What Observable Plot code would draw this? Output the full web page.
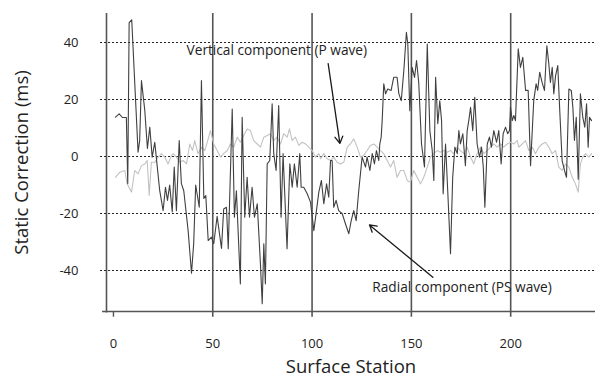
<!DOCTYPE html>
<html>
<head>
<meta charset="utf-8">
<script src="https://cdn.jsdelivr.net/npm/d3@7"></script>
<script src="https://cdn.jsdelivr.net/npm/@observablehq/plot@0.6"></script>
<style>
  html, body { margin: 0; padding: 0; background: #fff; }
  #chart svg { display: block; }
</style>
</head>
<body>
<div id="chart"></div>
<script>
// Radial component (PS wave) - dark series
const radialStation = [1.0,2.9,4.5,6.5,7.2,7.9,9.2,12.4,13.2,14.1,15.8,17.1,18.3,19.5,20.8,22.0,23.3,25.0,26.2,27.2,28.3,29.6,30.6,31.7,33.1,34.2,35.4,37.6,39.3,40.4,41.4,43.2,44.3,45.5,46.5,47.7,49.3,50.5,52.2,54.4,55.5,56.9,57.8,59.8,60.9,61.9,63.9,64.8,66.1,67.3,68.5,69.8,71.0,72.4,74.0,74.9,75.7,76.5,77.4,78.7,79.9,80.7,81.9,83.2,84.4,85.4,86.6,87.4,88.8,90.0,91.1,92.5,93.8,94.5,95.8,97.5,99.2,100.9,102.2,103.4,104.7,105.9,107.3,108.4,109.3,110.1,110.9,112.1,113.4,115.2,116.8,118.5,119.7,121.0,122.2,123.5,125.2,126.9,127.7,129.1,130.3,131.4,132.4,133.6,134.1,134.8,135.3,136.1,137.0,138.1,139.8,141.1,142.8,143.7,144.9,146.2,147.5,148.2,149.2,150.4,151.6,152.6,153.7,155.1,156.6,158.0,159.3,160.5,161.3,162.2,163.3,164.3,165.2,166.0,167.2,168.3,169.7,170.8,171.9,173.1,173.9,174.7,175.9,177.2,178.1,178.9,179.8,180.9,181.9,183.1,184.3,185.3,186.2,187.0,188.2,189.3,190.3,191.5,192.9,194.0,195.2,196.2,197.4,198.5,199.4,199.9,200.8,201.6,202.4,203.8,204.9,206.1,207.5,208.8,210.0,211.6,212.8,213.6,214.6,215.8,217.0,218.2,219.2,220.0,220.9,221.7,222.6,223.7,224.7,225.9,227.1,228.1,229.3,230.5,231.3,232.1,233.0,234.0,235.1,236.3,237.3,238.2,239.0,239.7,240.7];
const radialValue = [13.8,15.0,13.7,13.7,-9.5,47.0,48.0,1.5,5.6,26.7,16.0,2.8,10.3,-0.2,5.0,-3.2,-12.0,-19.0,-10.8,-15.4,-10.0,-19.5,-3.7,-19.0,5.6,-9.5,-12.0,-26.0,-41.0,-30.5,-10.0,-17.8,26.7,-14.7,-13.7,-29.5,-28.3,-30.6,-21.0,-32.3,-18.4,-17.8,-32.4,16.7,-21.3,-12.0,-44.7,13.8,-21.3,-7.3,-21.3,-10.8,-21.3,-16.6,-37.7,-51.7,-30.6,-44.7,-2.6,-1.4,18.5,1.0,-4.9,17.9,-21.3,1.0,-19.0,-32.4,-2.6,-10.8,-2.6,-10.8,1.0,-10.8,-10.8,-13.0,-16.0,-26.0,-19.0,-12.5,-8.4,-16.6,-9.6,-14.3,-1.4,-1.4,-17.8,-15.4,-19.0,-20.1,-23.6,-27.1,-22.5,-19.0,-22.5,-12.0,-0.2,-3.7,-0.2,-4.9,1.0,-2.6,2.1,-1.4,4.4,6.8,12.6,25.5,22.0,23.7,23.2,27.8,27.8,22.0,19.6,30.2,43.6,39.5,16.1,31.3,27.8,33.7,26.0,4.4,-3.7,39.5,9.1,2.1,-8.4,27.8,11.5,19.6,12.6,-13.1,4.4,-12.0,-34.1,-7.3,3.3,1.0,9.1,4.4,8.0,-3.2,9.1,12.6,17.3,9.1,20.8,4.4,-0.2,3.3,-3.7,-17.8,4.4,6.8,3.3,9.1,5.0,9.1,-2.6,8.0,10.3,8.0,9.1,17.3,12.6,14.4,12.6,37.8,31.3,34.8,23.2,23.2,-3.2,19.6,25.5,23.2,29.6,26.0,23.2,38.9,32.5,26.0,31.3,22.0,28.4,31.9,16.1,-1.4,-4.9,-7.3,23.7,23.2,17.3,5.6,13.8,-8.0,22.0,13.8,10.3,18.5,3.3,13.8,12.6];

// Vertical component (P wave) - light series
const verticalStation = [1.0,3.2,5.7,6.9,9.1,10.7,12.4,14.1,15.8,17.0,18.0,19.1,20.8,22.5,24.2,25.8,27.5,29.2,30.1,31.7,33.4,35.1,36.8,38.4,39.8,40.9,42.6,44.3,46.0,47.7,48.8,50.5,52.2,53.9,55.5,57.3,58.9,60.6,62.3,63.9,65.6,67.3,69.0,70.6,72.4,74.0,75.7,77.4,79.1,80.7,82.4,84.1,85.7,87.5,88.6,90.0,91.6,93.3,95.0,96.7,98.3,100.1,101.7,103.4,104.3,105.9,107.6,109.3,110.9,112.6,114.3,116.0,117.7,119.3,121.0,122.7,124.4,126.0,127.7,129.4,131.1,132.8,134.4,136.1,137.8,139.5,141.1,142.8,144.5,146.2,147.9,149.5,151.2,152.9,154.6,156.2,158.0,159.6,161.3,163.0,164.6,166.3,168.0,169.7,171.3,173.0,174.7,176.4,178.1,179.8,181.4,183.1,184.8,186.5,188.2,189.8,191.5,193.2,194.9,196.5,198.2,199.9,201.6,203.3,204.1,205.8,207.5,209.1,210.8,212.5,214.2,215.9,217.5,219.2,220.9,222.6,224.2,225.9,227.6,229.3,231.0,232.6,234.0,235.1,236.3,237.7,239.4,240.7];
const verticalValue = [-7.3,-5.5,-4.9,-9.6,-12.5,-4.9,-6.1,-3.2,-2.6,-1.4,-13.7,-2.0,-2.0,-0.2,1.0,-0.2,-2.6,0.4,1.0,-0.2,-2.0,-1.4,-2.6,4.4,2.1,5.6,1.0,3.3,2.1,6.2,9.1,4.4,2.1,-0.2,1.0,2.1,4.4,3.3,6.8,5.0,7.4,9.7,9.1,5.6,4.4,3.3,6.8,7.4,8.0,5.6,6.8,4.4,8.0,6.8,9.7,5.6,6.8,3.9,5.0,4.4,3.3,2.1,-0.2,1.0,-0.8,1.0,-0.8,-1.4,-0.2,-2.0,-2.6,-2.0,3.3,4.4,6.2,3.3,-0.2,0.4,2.1,3.9,4.4,3.3,2.1,1.0,-1.4,-3.7,-1.4,-7.3,-4.9,-4.9,-8.4,-9.0,-4.9,-7.3,-9.6,-7.3,-3.7,-0.2,1.0,2.1,1.5,2.1,1.5,2.1,1.0,3.3,2.1,1.0,3.3,-0.2,-2.6,1.0,3.3,1.0,2.1,3.3,4.4,3.3,4.4,3.3,4.4,5.0,4.4,5.6,3.3,4.4,5.6,2.1,3.3,1.0,3.3,4.4,5.0,3.3,1.0,2.1,-3.7,-4.9,-2.6,-3.7,-7.3,-9.6,-12.5,-2.6,-0.2,1.0,-0.2,1.0];

// Ticks, gridlines
const xTicks = [0, 50, 100, 150, 200];
const yTicks = [-40, -20, 0, 20, 40];
const stationLines = [50, 100, 150, 200];
const xDomain = [-3.5, 242.7];
const yDomain = [-54.4, 50.2];

// Annotations (in data units)
const labelText = ["Vertical component (P wave)", "Radial component (PS wave)"];
const labelStation = [36.8, 130.3];
const labelValue = [37.2, -46.0];
const arrowFromStation = [108.1, 160.8];
const arrowFromValue = [32.6, -42.4];
const arrowToStation = [114.0, 128.9];
const arrowToValue = [4.6, -24.0];

const radial = radialStation.map((s, i) => ({station: s, value: radialValue[i]}));
const vertical = verticalStation.map((s, i) => ({station: s, value: verticalValue[i]}));
const labels = labelText.map((t, i) => ({text: t, x: labelStation[i], y: labelValue[i]}));
const arrows = arrowFromStation.map((s, i) => ({x1: s, y1: arrowFromValue[i], x2: arrowToStation[i], y2: arrowToValue[i]}));

const font = "'Open Sans', 'Noto Sans', sans-serif";
const axisGray = "#555";

const chart = Plot.plot({
  width: 595,
  height: 381,
  marginLeft: 106,
  marginRight: 0,
  marginTop: 13,
  marginBottom: 70,
  style: {fontFamily: font, color: "#222", background: "#fff"},
  x: {domain: xDomain, axis: null},
  y: {domain: yDomain, axis: null},
  marks: [
    // dashed horizontal gridlines
    Plot.ruleY(yTicks, {x1: xDomain[0] - 3, x2: xDomain[1], stroke: "#222", strokeWidth: 1.1, strokeDasharray: "2,2"}),
    // vertical station lines
    Plot.ruleX(stationLines, {y1: yDomain[0] - 2, y2: yDomain[1], stroke: axisGray, strokeWidth: 1.6}),
    // tick at 0
    Plot.ruleX([xTicks[0]], {y1: yDomain[0] - 2, y2: yDomain[0], stroke: axisGray, strokeWidth: 1.4}),
    // series
    Plot.line(vertical, {x: "station", y: "value", stroke: "#c2c2c2", strokeWidth: 1.1}),
    Plot.line(radial, {x: "station", y: "value", stroke: "#404040", strokeWidth: 1.1}),
    // axis lines
    Plot.ruleX([xDomain[0]], {y1: yDomain[0] - 0.5, y2: yDomain[1], stroke: axisGray, strokeWidth: 1.6}),
    Plot.ruleY([yDomain[0]], {x1: xDomain[0] - 2, x2: xDomain[1], stroke: axisGray, strokeWidth: 1.6}),
    // tick labels
    Plot.axisY(yTicks, {tickSize: 0, tickPadding: 28, fontSize: 13, label: null, tickFormat: d => String(d)}),
    Plot.axisX(xTicks, {tickSize: 0, tickPadding: 27, fontSize: 13, label: null}),
    // axis titles
    Plot.text(["Static Correction (ms)"], {frameAnchor: "left", textAnchor: "middle", rotate: -90, dx: -84, fontSize: 18.5, fill: "#222"}),
    Plot.text(["Surface Station"], {frameAnchor: "bottom", textAnchor: "middle", dy: 61, fontSize: 18.5, fill: "#222"}),
    // annotations
    Plot.arrow(arrows, {x1: "x1", y1: "y1", x2: "x2", y2: "y2", stroke: "#1a1a1a", strokeWidth: 1.3, headLength: 9}),
    Plot.text(labels, {x: "x", y: "y", text: "text", textAnchor: "start", fontSize: 13.7, fill: "#222"})
  ]
});

document.getElementById("chart").appendChild(chart);
</script>
</body>
</html>
